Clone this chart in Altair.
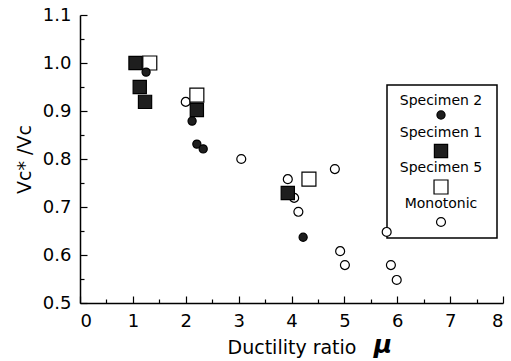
import altair as alt
import pandas as pd

# ---- data ----
mono_x = [2.0, 3.05, 3.93, 4.05, 4.13, 4.82, 4.92, 5.01, 5.8, 5.88, 5.99]
mono_y = [0.919, 0.80, 0.758, 0.719, 0.69, 0.779, 0.608, 0.579, 0.648, 0.579, 0.548]

spec5_x = [1.32, 2.21, 4.33]
spec5_y = [1.0, 0.933, 0.758]

spec1_x = [1.05, 1.13, 1.23, 2.21, 3.93]
spec1_y = [1.0, 0.95, 0.919, 0.902, 0.729]

spec2_x = [1.25, 2.12, 2.21, 2.33, 4.22]
spec2_y = [0.981, 0.879, 0.831, 0.821, 0.637]

series_order = ["Specimen 2", "Specimen 1", "Specimen 5", "Monotonic"]
x_ticks = [0, 1, 2, 3, 4, 5, 6, 7, 8]
x_minor = [0.5, 1.5, 2.5, 3.5, 4.5, 5.5, 6.5, 7.5]
y_ticks = [0.5, 0.6, 0.7, 0.8, 0.9, 1.0, 1.1]
y_minor = [0.55, 0.65, 0.75, 0.85, 0.95, 1.05]

series_data = {
    "Monotonic": (mono_x, mono_y),
    "Specimen 5": (spec5_x, spec5_y),
    "Specimen 1": (spec1_x, spec1_y),
    "Specimen 2": (spec2_x, spec2_y),
}

# marker styles (not data)
styles = {
    "Specimen 2": dict(shape="circle", fill="#1e1e1e", size=66),
    "Specimen 1": dict(shape="square", fill="#1e1e1e", size=175),
    "Specimen 5": dict(shape="square", fill="white", size=195),
    "Monotonic": dict(shape="circle", fill="white", size=80),
}

rows = []
for name, (xs_, ys_) in series_data.items():
    for a, b in zip(xs_, ys_):
        rows.append({"mu": a, "ratio": b, "series": name})
df = pd.DataFrame(rows)

FONT = "DejaVu Sans"
W, H = 423, 288

xs = alt.Scale(domain=[0, 8], nice=False, zero=False)
ys = alt.Scale(domain=[0.5, 1.1], nice=False, zero=False)

base = alt.Chart(df)

# invisible layer carrying the labelled axes
axes_layer = base.mark_point(opacity=0).encode(
    x=alt.X("mu:Q", scale=xs, axis=alt.Axis(
        orient="bottom", values=x_ticks, ticks=False, labelFontSize=18, labelFont=FONT,
        labelColor="black", labelPadding=9, domainColor="black", domainWidth=1.5,
        grid=False, title="Ductility ratio", titleFont=FONT, titleFontSize=19,
        titleFontWeight="normal", titleColor="black", titlePadding=8)),
    y=alt.Y("ratio:Q", scale=ys, axis=alt.Axis(
        orient="left", values=y_ticks, format=".1f", ticks=False, labelFontSize=18,
        labelFont=FONT, labelColor="black", labelPadding=9, domainColor="black",
        domainWidth=1.5, grid=False, title="Vc* /Vc", titleFont=FONT, titleFontSize=19,
        titleFontWeight="normal", titleColor="black", titlePadding=8)),
)


def tick_layer(xv, yv, size):
    return base.mark_point(opacity=0).encode(
        x=alt.X("mu:Q", scale=xs, axis=alt.Axis(
            orient="top", offset=-H, values=xv, labels=False, domain=False, grid=False,
            tickSize=size, tickColor="black", tickWidth=1.2, title="")),
        y=alt.Y("ratio:Q", scale=ys, axis=alt.Axis(
            orient="right", offset=-W, values=yv, labels=False, domain=False, grid=False,
            tickSize=size, tickColor="black", tickWidth=1.2, title="")),
    )


major = tick_layer(x_ticks, y_ticks, 7)
minor = tick_layer(x_minor, y_minor, 4)

series_layers = []
for name in ["Monotonic", "Specimen 5", "Specimen 1", "Specimen 2"]:
    st = styles[name]
    series_layers.append(
        alt.Chart(df).transform_filter(alt.datum.series == name).mark_point(
            shape=st["shape"], fill=st["fill"], size=st["size"], stroke="black",
            strokeWidth=1.2, opacity=1, fillOpacity=1).encode(
            x=alt.X("mu:Q", scale=xs, axis=None),
            y=alt.Y("ratio:Q", scale=ys, axis=None)))

# mu symbol next to the x title
mu_text = alt.Chart(pd.DataFrame({"t": ["μ"]})).mark_text(
    font=FONT, fontSize=25, fontStyle="italic", fontWeight="bold", color="black",
    align="center", baseline="middle").encode(
    text="t:N", x=alt.value(303), y=alt.value(330))

# custom legend box: label above symbol
box_left, box_right, box_top, box_bottom = 307, 417, 70, 223
legend_box = alt.Chart(pd.DataFrame({"a": [0]})).mark_rect(
    fill="white", stroke="black", strokeWidth=1.5).encode(
    x=alt.value(box_left), x2=alt.value(box_right),
    y=alt.value(box_top), y2=alt.value(box_bottom))

leg_layers = []
cx = 361
label_y = [86, 118, 153, 189]
sym_y = [100, 136, 172, 207]
for i, name in enumerate(series_order):
    st = styles[name]
    one = pd.DataFrame({"series": [name]})
    leg_layers.append(alt.Chart(one).mark_text(
        font=FONT, fontSize=14, color="black", align="center", baseline="middle").encode(
        text="series:N", x=alt.value(cx), y=alt.value(label_y[i])))
    leg_layers.append(alt.Chart(one).mark_point(
        shape=st["shape"], fill=st["fill"], size=st["size"], stroke="black",
        strokeWidth=1.2, opacity=1, fillOpacity=1).encode(
        x=alt.value(cx), y=alt.value(sym_y[i])))

chart = alt.layer(axes_layer, major, minor, legend_box, *leg_layers, *series_layers,
                  mu_text).resolve_axis(
    x="independent", y="independent"
).properties(
    width=W, height=H,
    autosize=alt.AutoSizeParams(type="none"),
    padding={"left": 80, "top": 15, "right": 8, "bottom": 58},
    background="white",
).configure_view(stroke=None)

chart.save("out.html", embed_options={"renderer": "svg", "actions": False})
